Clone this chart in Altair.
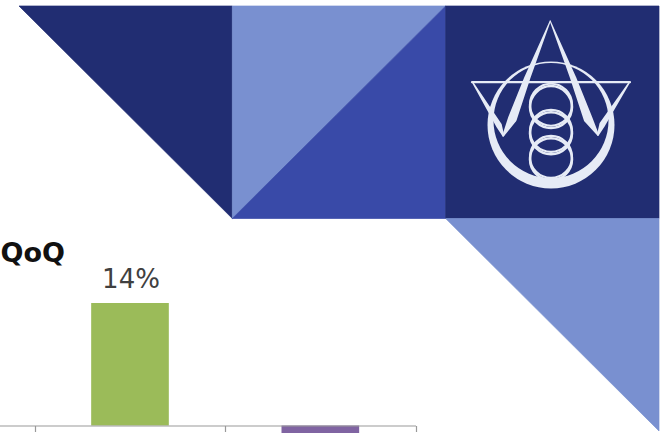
import altair as alt
import pandas as pd

# Banner tiles, in units of one tile
tile_id = ["a", "a", "b", "b", "c", "c", "d", "d", "e", "e"]
tile_x = [0, 1, 1, 2, 1, 2, 2, 3, 2, 3]
tile_top = [0, 0, 0, 0, 1, 0, 0, 0, 1, 1]
tile_bottom = [0, 1, 1, 0, 1, 1, 1, 1, 1, 2]
tile_colors = ["#212D72", "#7990D0", "#394AA8", "#212D72", "#7990D0"]

# Emblem strokes, on a 0-100 grid: tapered legs, thin arms and the cross bar
stroke_id = ["l"] * 4 + ["la"] * 3 + ["r"] * 4 + ["ra"] * 3 + ["bar"] * 2
stroke_seq = [0, 1, 2, 3, 0, 1, 2, 0, 1, 2, 3, 0, 1, 2, 0, 1]
stroke_x = [49.5, 35, 25.5, 19.8, 0.5, 17, 19.8,
            49.5, 64, 73.5, 79.7, 99.5, 82.5, 79.7,
            0, 100]
stroke_y = [0, 36, 62, 72.5, 39, 66, 72.5,
            0, 36, 62, 72, 39, 65.5, 72,
            38.7, 38.7]
stroke_w = [1, 6, 9, 2, 1.5, 6, 2,
            1, 6, 9, 2, 1.5, 6, 2,
            2.2, 2.2]

# Emblem rings, on the same grid
ring_x = [50, 50, 50]
ring_y = [53, 69.6, 86]

# Quarter-on-quarter bars
quarters = ["Q1", "Q2", "Q3"]
bar_quarters = ["Q2", "Q3"]
bar_values = [0.14, -0.02]
bar_colors = ["#9BBB59", "#8064A2"]

PALE = "#E6EBF6"
NAVY = "#212D72"

tiles = pd.DataFrame({"id": tile_id, "x": tile_x, "top": tile_top, "bottom": tile_bottom})
strokes = pd.DataFrame({"id": stroke_id, "seq": stroke_seq, "x": stroke_x, "y": stroke_y, "w": stroke_w})
rings = pd.DataFrame({"x": ring_x, "y": ring_y})
bars = pd.DataFrame({"quarter": bar_quarters, "value": bar_values, "color": bar_colors})

tile_sx = alt.Scale(domain=[0, 3], range=[19, 659])
tile_sy = alt.Scale(domain=[0, 2], range=[6, 431])
em_sx = alt.Scale(domain=[0, 100], range=[472, 630])
em_sy = alt.Scale(domain=[0, 100], range=[21, 179])
quarter_scale = alt.Scale(domain=quarters, range=[-155.5, 415.5], paddingInner=0.592, paddingOuter=0.296)
value_scale = alt.Scale(domain=[0, 0.14], range=[425.5, 303])
tile_palette = alt.Scale(domain=list("abcde"), range=tile_colors)

# A hairline outline in each tile's own colour closes the seams between them
banner = alt.Chart(tiles).mark_area(opacity=1, strokeWidth=0.7).encode(
    x=alt.X("x:Q", scale=tile_sx, axis=None),
    y=alt.Y("top:Q", scale=tile_sy, axis=None, stack=None),
    y2="bottom:Q",
    color=alt.Color("id:N", scale=tile_palette, legend=None),
    stroke=alt.Stroke("id:N", scale=tile_palette, legend=None),
)


def disc(x, y, diameter, color):
    """A filled circle on the emblem grid."""
    return alt.Chart(pd.DataFrame({"x": [x], "y": [y]})).mark_point(
        filled=True, opacity=1, size=diameter**2, color=color
    ).encode(
        x=alt.X("x:Q", scale=em_sx, axis=None),
        y=alt.Y("y:Q", scale=em_sy, axis=None),
    )


def ring_layer(offset, width):
    return alt.Chart(rings.assign(y=rings["y"] + offset)).mark_point(
        filled=False, opacity=1, size=42**2, color=PALE, strokeWidth=width
    ).encode(
        x=alt.X("x:Q", scale=em_sx, axis=None),
        y=alt.Y("y:Q", scale=em_sy, axis=None),
    )


emblem_strokes = alt.Chart(strokes).mark_trail(color=PALE, opacity=1).encode(
    x=alt.X("x:Q", scale=em_sx, axis=None),
    y=alt.Y("y:Q", scale=em_sy, axis=None),
    size=alt.Size("w:Q", scale=None, legend=None),
    detail="id:N",
    order="seq:Q",
)

# Ticks sit on the boundaries between quarters, not at the bar edges
bar_marks = alt.Chart(bars).mark_bar(opacity=1).encode(
    x=alt.X(
        "quarter:N",
        scale=quarter_scale,
        axis=alt.Axis(
            title=None, labels=False, bandPosition=1, tickExtra=True, tickOffset=56.5,
            grid=False, offset=-7.5, zindex=1,
            domainColor="#999999", tickColor="#999999", tickSize=6, domainWidth=1.2, tickWidth=1.2,
        ),
    ),
    y=alt.Y("value:Q", scale=value_scale, axis=None),
    color=alt.Color("color:N", scale=None),
)
bar_labels = alt.Chart(bars[bars["value"] > 0]).mark_text(
    dy=-15, dx=1, baseline="alphabetic", font="DejaVu Sans", fontSize=26, color="#404040"
).encode(
    x=alt.X("quarter:N", scale=quarter_scale, axis=None),
    y=alt.Y("value:Q", scale=value_scale, axis=None),
    text=alt.Text("value:Q", format=".0%"),
)
title = alt.Chart(pd.DataFrame({"t": ["QoQ"]})).mark_text(
    align="right", baseline="alphabetic", font="DejaVu Sans", fontWeight="bold", fontSize=27, color="#111111"
).encode(x=alt.value(65), y=alt.value(262), text="t:N")

chart = alt.layer(
    banner,
    disc(50, 65.8, 127, PALE),
    disc(50, 63, 115, NAVY),
    ring_layer(0, 2.2),
    ring_layer(1.5, 2.5),
    emblem_strokes,
    bar_marks,
    bar_labels,
    title,
).resolve_scale(x="independent", y="independent", color="independent", stroke="independent").properties(
    width=664, height=433, padding=0, autosize="none", background="white"
).configure_view(stroke=None)

chart.save("out.html", embed_options={"renderer": "svg", "actions": False})
